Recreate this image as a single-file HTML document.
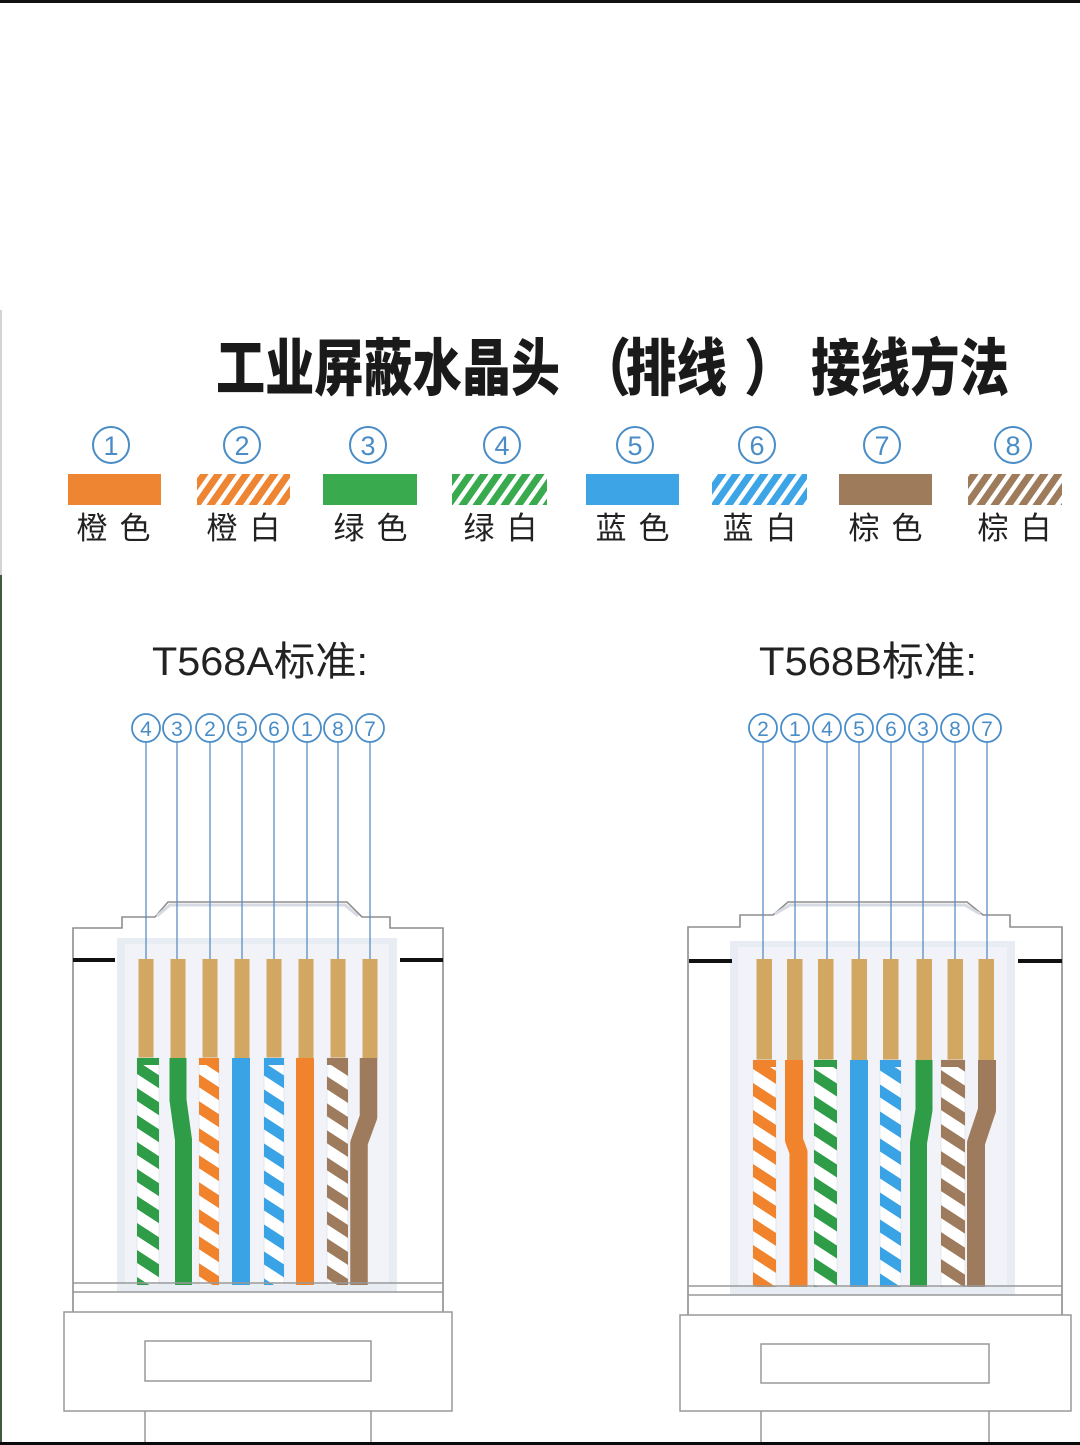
<!DOCTYPE html>
<html><head><meta charset="utf-8"><style>
html,body{margin:0;padding:0;background:#fff;}
svg{display:block;}
.t{font-family:"Liberation Sans","Noto Sans CJK SC",sans-serif;}
.cjk{font-family:"Noto Sans CJK SC","WenQuanYi Zen Hei",sans-serif;}
</style></head><body>
<svg width="1080" height="1445" viewBox="0 0 1080 1445" xmlns="http://www.w3.org/2000/svg">
<defs>
  <pattern id="lo" width="14" height="100" patternUnits="userSpaceOnUse" patternTransform="skewX(-35)"><rect width="8.5" height="100" fill="#ee8533"/></pattern>
  <pattern id="lg" width="14" height="100" patternUnits="userSpaceOnUse" patternTransform="skewX(-35)"><rect width="8.5" height="100" fill="#3aaa4e"/></pattern>
  <pattern id="lb" width="14" height="100" patternUnits="userSpaceOnUse" patternTransform="skewX(-35)"><rect width="8.5" height="100" fill="#3da5e6"/></pattern>
  <pattern id="ln" width="14" height="100" patternUnits="userSpaceOnUse" patternTransform="skewX(-35)"><rect width="8.5" height="100" fill="#9d7b5b"/></pattern>
  <pattern id="wo" width="200" height="27" patternUnits="userSpaceOnUse" patternTransform="skewY(33)"><rect width="200" height="13" fill="#f0832c"/></pattern>
  <pattern id="wg" width="200" height="27" patternUnits="userSpaceOnUse" patternTransform="skewY(33)"><rect width="200" height="13" fill="#2f9c47"/></pattern>
  <pattern id="wb" width="200" height="27" patternUnits="userSpaceOnUse" patternTransform="skewY(33)"><rect width="200" height="13" fill="#3aa3e6"/></pattern>
  <pattern id="wn" width="200" height="27" patternUnits="userSpaceOnUse" patternTransform="skewY(33)"><rect width="200" height="13" fill="#9e7b5c"/></pattern>
</defs>

<rect x="0" y="0" width="1080" height="1445" fill="#fff"/>
<rect x="0" y="0" width="1080" height="3" fill="#111"/>
<rect x="0" y="1442" width="1080" height="3" fill="#0a0a0a"/>
<rect x="0" y="310" width="2" height="265" fill="#d4d4d4"/>
<rect x="0" y="575" width="2" height="867" fill="#3f5a3f"/>

<!-- Title -->
<g class="cjk" font-weight="900" font-size="62" fill="#1a1a1a">
  <text x="216" y="390" textLength="344" lengthAdjust="spacingAndGlyphs">工业屏蔽水晶头</text>
  <text x="579" y="390" textLength="52" lengthAdjust="spacingAndGlyphs">（</text>
  <text x="626" y="390" textLength="101" lengthAdjust="spacingAndGlyphs">排线</text>
  <text x="744" y="390" textLength="52" lengthAdjust="spacingAndGlyphs">）</text>
  <text x="811" y="390" textLength="198" lengthAdjust="spacingAndGlyphs">接线方法</text>
</g>

<!-- Legend circles -->
<g fill="none" stroke="#4a8cc6" stroke-width="2">
  <circle cx="111" cy="445" r="18"/><circle cx="242" cy="445" r="18"/>
  <circle cx="368" cy="445" r="18"/><circle cx="502" cy="445" r="18"/>
  <circle cx="635" cy="445" r="18"/><circle cx="757" cy="445" r="18"/>
  <circle cx="882" cy="445" r="18"/><circle cx="1013" cy="445" r="18"/>
</g>
<g class="t" font-size="27" fill="#4a8cc6" text-anchor="middle">
  <text x="111" y="455">1</text><text x="242" y="455">2</text>
  <text x="368" y="455">3</text><text x="502" y="455">4</text>
  <text x="635" y="455">5</text><text x="757" y="455">6</text>
  <text x="882" y="455">7</text><text x="1013" y="455">8</text>
</g>

<!-- Legend swatches -->
<rect x="68" y="474" width="93" height="31" fill="#ee8533"/>
<rect x="197" y="474" width="93" height="31" fill="#fff"/><rect x="197" y="474" width="93" height="31" fill="url(#lo)"/>
<rect x="323" y="474" width="94" height="31" fill="#3aaa4e"/>
<rect x="452" y="474" width="95" height="31" fill="#fff"/><rect x="452" y="474" width="95" height="31" fill="url(#lg)"/>
<rect x="586" y="474" width="93" height="31" fill="#3da5e6"/>
<rect x="712" y="474" width="95" height="31" fill="#fff"/><rect x="712" y="474" width="95" height="31" fill="url(#lb)"/>
<rect x="839" y="474" width="93" height="31" fill="#9d7b5b"/>
<rect x="968" y="474" width="94" height="31" fill="#fff"/><rect x="968" y="474" width="94" height="31" fill="url(#ln)"/>

<!-- Legend labels -->
<g class="cjk" font-size="31" fill="#222" text-anchor="middle">
  <text x="92" y="539">橙</text><text x="135" y="539">色</text>
  <text x="222" y="539">橙</text><text x="265" y="539">白</text>
  <text x="349" y="539">绿</text><text x="392" y="539">色</text>
  <text x="479" y="539">绿</text><text x="522" y="539">白</text>
  <text x="611" y="539">蓝</text><text x="654" y="539">色</text>
  <text x="738" y="539">蓝</text><text x="781" y="539">白</text>
  <text x="864" y="539">棕</text><text x="907" y="539">色</text>
  <text x="993" y="539">棕</text><text x="1036" y="539">白</text>
</g>

<!-- Section headings -->
<g class="t" font-size="40" fill="#222">
  <text x="152" y="675" textLength="216" lengthAdjust="spacingAndGlyphs">T568A标准:</text>
  <text x="759" y="675" textLength="218" lengthAdjust="spacingAndGlyphs">T568B标准:</text>
</g>

<!-- ===== Connector A ===== -->
<g>
  <path d="M73,1312 V928 H122 V917 H155 L168,902 H347 L362,917 H390 V928 H443 V1312" fill="#fff" stroke="#8e8e8e" stroke-width="1.6"/>
  <path d="M157,916 L170,905 H345 L358,916" fill="none" stroke="#d6dae2" stroke-width="3"/>
  <rect x="117" y="938" width="280" height="354" fill="#e8ecf3"/>
  <rect x="125" y="944" width="264" height="340" fill="#f1f3f8"/>
  <rect x="73" y="958" width="42" height="4" fill="#111"/>
  <rect x="400" y="958" width="43" height="4" fill="#111"/>
</g>
<g stroke="#5b8ec4" stroke-width="1.3">
  <line x1="146" y1="742" x2="146" y2="960"/><line x1="177" y1="742" x2="177" y2="960"/>
  <line x1="210" y1="742" x2="210" y2="960"/><line x1="242" y1="742" x2="242" y2="960"/>
  <line x1="274" y1="742" x2="274" y2="960"/><line x1="307" y1="742" x2="307" y2="960"/>
  <line x1="338" y1="742" x2="338" y2="960"/><line x1="370" y1="742" x2="370" y2="960"/>
</g>
<g fill="#fff" stroke="#4a8cc6" stroke-width="1.8">
  <circle cx="146" cy="728" r="14"/><circle cx="177" cy="728" r="14"/>
  <circle cx="210" cy="728" r="14"/><circle cx="242" cy="728" r="14"/>
  <circle cx="274" cy="728" r="14"/><circle cx="307" cy="728" r="14"/>
  <circle cx="338" cy="728" r="14"/><circle cx="370" cy="728" r="14"/>
</g>
<g class="t" font-size="21" fill="#4a8cc6" text-anchor="middle">
  <text x="146" y="736">4</text><text x="177" y="736">3</text>
  <text x="210" y="736">2</text><text x="242" y="736">5</text>
  <text x="274" y="736">6</text><text x="307" y="736">1</text>
  <text x="338" y="736">8</text><text x="370" y="736">7</text>
</g>
<g fill="#d2a762">
  <rect x="138.5" y="959" width="15" height="100"/><rect x="170.5" y="959" width="15" height="100"/>
  <rect x="202.5" y="959" width="15" height="100"/><rect x="234.5" y="959" width="15" height="100"/>
  <rect x="266.5" y="959" width="15" height="100"/><rect x="298.5" y="959" width="15" height="100"/>
  <rect x="330.5" y="959" width="15" height="100"/><rect x="362.5" y="959" width="15" height="100"/>
</g>
<g>
  <rect x="137" y="1058" width="22" height="227" fill="#fff" stroke="#e3e7ee" stroke-width="1"/>
  <rect x="137" y="1058" width="22" height="227" fill="url(#wg)"/>
  <rect x="137" y="1058" width="22" height="7" fill="#2f9c47"/>
  <path d="M178,1058 V1100 L183.5,1140 V1285" fill="none" stroke="#2f9c47" stroke-width="17" stroke-linejoin="round"/>
  <rect x="199" y="1058" width="20" height="227" fill="#fff" stroke="#e3e7ee" stroke-width="1"/>
  <rect x="199" y="1058" width="20" height="227" fill="url(#wo)"/>
  <rect x="199" y="1058" width="20" height="7" fill="#f0832c"/>
  <rect x="232" y="1058" width="18" height="227" fill="#3aa3e6"/>
  <rect x="264" y="1058" width="20" height="227" fill="#fff" stroke="#e3e7ee" stroke-width="1"/>
  <rect x="264" y="1058" width="20" height="227" fill="url(#wb)"/>
  <rect x="264" y="1058" width="20" height="7" fill="#3aa3e6"/>
  <rect x="296" y="1058" width="18" height="227" fill="#f0832c"/>
  <rect x="327" y="1058" width="21" height="227" fill="#fff" stroke="#e3e7ee" stroke-width="1"/>
  <rect x="327" y="1058" width="21" height="227" fill="url(#wn)"/>
  <rect x="327" y="1058" width="21" height="7" fill="#9e7b5c"/>
  <path d="M368.5,1058 V1117 L359,1143 V1285" fill="none" stroke="#9e7b5c" stroke-width="17.5" stroke-linejoin="round"/>
</g>
<g fill="none" stroke="#999" stroke-width="1.5">
  <line x1="73" y1="1283" x2="443" y2="1283"/>
  <line x1="73" y1="1292" x2="443" y2="1292"/>
  <rect x="64" y="1312" width="388" height="99" fill="#fff"/>
  <rect x="145" y="1341" width="226" height="40"/>
  <line x1="145" y1="1411" x2="145" y2="1442"/>
  <line x1="371" y1="1411" x2="371" y2="1442"/>
</g>

<!-- ===== Connector B ===== -->
<g>
  <path d="M688,1315 V927 H740 V915 H773 L788,902 H967 L983,915 H1010 V927 H1062 V1315" fill="#fff" stroke="#8e8e8e" stroke-width="1.6"/>
  <path d="M775,914 L790,905 H965 L980,914" fill="none" stroke="#d6dae2" stroke-width="3"/>
  <rect x="730" y="941" width="285" height="354" fill="#e8ecf3"/>
  <rect x="738" y="947" width="269" height="340" fill="#f1f3f8"/>
  <rect x="689" y="959" width="43" height="4" fill="#111"/>
  <rect x="1018" y="959" width="44" height="4" fill="#111"/>
</g>
<g stroke="#5b8ec4" stroke-width="1.3">
  <line x1="763" y1="742" x2="763" y2="961"/><line x1="795" y1="742" x2="795" y2="961"/>
  <line x1="827" y1="742" x2="827" y2="961"/><line x1="859" y1="742" x2="859" y2="961"/>
  <line x1="891" y1="742" x2="891" y2="961"/><line x1="923" y1="742" x2="923" y2="961"/>
  <line x1="955" y1="742" x2="955" y2="961"/><line x1="987" y1="742" x2="987" y2="961"/>
</g>
<g fill="#fff" stroke="#4a8cc6" stroke-width="1.8">
  <circle cx="763" cy="728" r="14"/><circle cx="795" cy="728" r="14"/>
  <circle cx="827" cy="728" r="14"/><circle cx="859" cy="728" r="14"/>
  <circle cx="891" cy="728" r="14"/><circle cx="923" cy="728" r="14"/>
  <circle cx="955" cy="728" r="14"/><circle cx="987" cy="728" r="14"/>
</g>
<g class="t" font-size="21" fill="#4a8cc6" text-anchor="middle">
  <text x="763" y="736">2</text><text x="795" y="736">1</text>
  <text x="827" y="736">4</text><text x="859" y="736">5</text>
  <text x="891" y="736">6</text><text x="923" y="736">3</text>
  <text x="955" y="736">8</text><text x="987" y="736">7</text>
</g>
<g fill="#d2a762">
  <rect x="756.5" y="959" width="15.5" height="102"/><rect x="787" y="959" width="15.5" height="102"/>
  <rect x="818" y="959" width="15.5" height="102"/><rect x="851.5" y="959" width="15.5" height="102"/>
  <rect x="883" y="959" width="15.5" height="102"/><rect x="916.5" y="959" width="15.5" height="102"/>
  <rect x="947.5" y="959" width="15.5" height="102"/><rect x="978.5" y="959" width="15.5" height="102"/>
</g>
<g>
  <rect x="753" y="1060" width="23" height="227" fill="#fff" stroke="#e3e7ee" stroke-width="1"/>
  <rect x="753" y="1060" width="23" height="227" fill="url(#wo)"/>
  <rect x="753" y="1060" width="23" height="7" fill="#f0832c"/>
  <path d="M794,1060 V1140 L798.5,1152 V1287" fill="none" stroke="#f0832c" stroke-width="18" stroke-linejoin="round"/>
  <rect x="814" y="1060" width="23" height="227" fill="#fff" stroke="#e3e7ee" stroke-width="1"/>
  <rect x="814" y="1060" width="23" height="227" fill="url(#wg)"/>
  <rect x="814" y="1060" width="23" height="7" fill="#2f9c47"/>
  <rect x="850" y="1060" width="18" height="227" fill="#3aa3e6"/>
  <rect x="880" y="1060" width="21" height="227" fill="#fff" stroke="#e3e7ee" stroke-width="1"/>
  <rect x="880" y="1060" width="21" height="227" fill="url(#wb)"/>
  <rect x="880" y="1060" width="21" height="7" fill="#3aa3e6"/>
  <path d="M924,1060 V1110 L918.5,1143 V1287" fill="none" stroke="#2f9c47" stroke-width="17" stroke-linejoin="round"/>
  <rect x="941" y="1060" width="24" height="227" fill="#fff" stroke="#e3e7ee" stroke-width="1"/>
  <rect x="941" y="1060" width="24" height="227" fill="url(#wn)"/>
  <rect x="941" y="1060" width="24" height="7" fill="#9e7b5c"/>
  <path d="M987,1060 V1110 L976,1143 V1287" fill="none" stroke="#9e7b5c" stroke-width="18" stroke-linejoin="round"/>
</g>
<g fill="none" stroke="#999" stroke-width="1.5">
  <line x1="688" y1="1286" x2="1062" y2="1286"/>
  <line x1="688" y1="1295" x2="1062" y2="1295"/>
  <rect x="680" y="1315" width="391" height="96" fill="#fff"/>
  <rect x="761" y="1344" width="228" height="39"/>
  <line x1="761" y1="1411" x2="761" y2="1442"/>
  <line x1="989" y1="1411" x2="989" y2="1442"/>
</g>
</svg>
</body></html>
